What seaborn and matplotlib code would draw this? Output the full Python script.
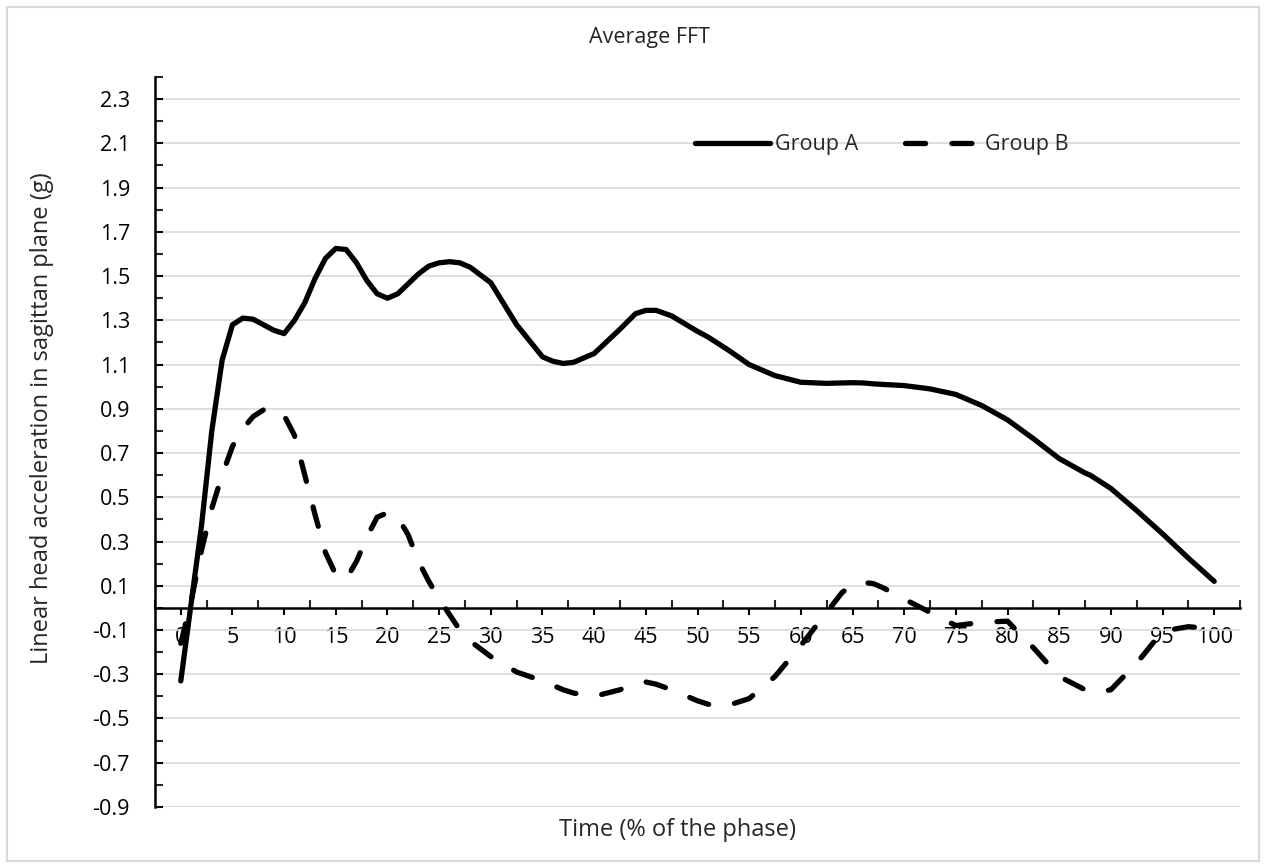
import pandas as pd
import matplotlib.pyplot as plt
from matplotlib.patches import Rectangle
from matplotlib.ticker import FixedLocator
import seaborn as sns


# Values
time_pct = [0, 1, 2, 3, 4, 5, 6, 7, 8, 9, 10, 11, 12, 13, 14, 15, 16, 17, 18, 19,
            20, 21, 22, 23, 24, 25, 26, 27, 28, 30, 32.5, 35, 36, 37, 38, 40, 42.5,
            44, 45, 46, 47.5, 50, 51, 52, 53, 55, 57.5, 60, 62.5, 64, 65, 66, 67,
            68, 70, 72.5, 75, 77.5, 80, 82.5, 85, 87.5, 88, 89, 90, 92.5, 95,
            97.5, 100]

group_a = [-0.33, 0.02, 0.37, 0.80, 1.12, 1.28, 1.31, 1.305, 1.28, 1.255, 1.24,
           1.30, 1.38, 1.49, 1.58, 1.625, 1.62, 1.56, 1.48, 1.42, 1.40, 1.42,
           1.465, 1.51, 1.545, 1.56, 1.565, 1.56, 1.54, 1.47, 1.28, 1.135, 1.115,
           1.105, 1.11, 1.15, 1.26, 1.33, 1.345, 1.345, 1.32, 1.25, 1.225, 1.195,
           1.165, 1.10, 1.05, 1.02, 1.015, 1.017, 1.018, 1.017, 1.013, 1.01,
           1.005, 0.99, 0.965, 0.915, 0.85, 0.765, 0.675, 0.61, 0.60, 0.57, 0.54,
           0.44, 0.335, 0.225, 0.12]

group_b = [-0.16, 0.03, 0.26, 0.45, 0.60, 0.73, 0.81, 0.865, 0.895, 0.90, 0.87,
           0.78, 0.60, 0.42, 0.25, 0.15, 0.13, 0.21, 0.32, 0.41, 0.43, 0.41, 0.33,
           0.21, 0.12, 0.04, -0.03, -0.10, -0.15, -0.22, -0.29, -0.33, -0.35,
           -0.37, -0.385, -0.40, -0.37, -0.34, -0.335, -0.345, -0.37, -0.42,
           -0.435, -0.445, -0.44, -0.41, -0.31, -0.17, -0.02, 0.07, 0.105, 0.115,
           0.11, 0.09, 0.04, -0.02, -0.08, -0.065, -0.06, -0.18, -0.31, -0.37,
           -0.38, -0.38, -0.37, -0.25, -0.105, -0.085, -0.095]

series_names = ["Group A", "Group B"]
x_tick_values = list(range(0, 101, 5))
x_minor_values = [v - 2.5 for v in range(0, 106, 5)]
y_tick_labels = ["-0.9", "-0.7", "-0.5", "-0.3", "-0.1", "0.1", "0.3", "0.5",
                 "0.7", "0.9", "1.1", "1.3", "1.5", "1.7", "1.9", "2.1", "2.3"]
y_minor_labels = ["-0.8", "-0.6", "-0.4", "-0.2", "0.0", "0.2", "0.4", "0.6",
                  "0.8", "1.0", "1.2", "1.4", "1.6", "1.8", "2.0", "2.2", "2.4"]


def build_frame():
    """Длинная таблица для seaborn."""
    n = len(time_pct)
    return pd.DataFrame({
        "time": time_pct * 2,
        "value": group_a + group_b,
        "group": [series_names[0]] * n + [series_names[1]] * n,
    })


def plot_fft(df):
    sns.set_style("white")
    plt.rcParams["font.family"] = ["Open Sans", "DejaVu Sans"]

    fig = plt.figure(figsize=(12.66, 8.68), dpi=100)
    ax = fig.add_axes([0.1224, 0.0703, 0.8571, 0.8410])

    sns.lineplot(data=df, x="time", y="value", hue="group", style="group",
                 palette={"Group A": "black", "Group B": "black"},
                 dashes={"Group A": "", "Group B": (3.8, 5.0)},
                 linewidth=3.8, legend=False, ax=ax)

    for line in ax.lines:
        line.set_solid_capstyle("round")
        line.set_dash_capstyle("round")
        line.set_solid_joinstyle("round")
        line.set_dash_joinstyle("round")

    ax.set_xlim(-2.5, 102.5)
    ax.set_ylim(-0.9, 2.4)

    # оси как в Excel: ось X проходит через ноль
    ax.spines["top"].set_visible(False)
    ax.spines["right"].set_visible(False)
    ax.spines["bottom"].set_position(("data", 0))
    for side in ("left", "bottom"):
        ax.spines[side].set_color("black")
        ax.spines[side].set_linewidth(1.8)

    ax.xaxis.set_major_locator(FixedLocator(x_tick_values))
    ax.xaxis.set_minor_locator(FixedLocator(x_minor_values))
    ax.set_xticklabels([str(v) for v in x_tick_values])
    ax.tick_params(axis="x", which="both", bottom=True, top=False)
    ax.tick_params(axis="x", which="major", direction="out", length=5, width=1.5,
                   pad=9, labelsize=15.5, colors="black")
    ax.tick_params(axis="x", which="minor", direction="in", length=6, width=1.5)

    ax.yaxis.set_major_locator(FixedLocator([float(v) for v in y_tick_labels]))
    ax.yaxis.set_minor_locator(FixedLocator([float(v) for v in y_minor_labels]))
    ax.set_yticklabels(y_tick_labels)
    ax.tick_params(axis="y", which="both", left=True, right=False)
    ax.tick_params(axis="y", which="major", direction="in", length=6, width=1.5,
                   pad=18, labelsize=15.5, colors="black")
    ax.tick_params(axis="y", which="minor", direction="in", length=6, width=1.5)

    ax.grid(axis="y", which="major", color="#d9d9d9", linewidth=1.2)
    ax.grid(axis="x", visible=False)
    ax.set_axisbelow(True)
    ax.set_xlabel("")
    ax.set_ylabel("")

    fig.text(0.513, 0.957, "Average FFT", ha="center", va="center", fontsize=15.5)
    fig.text(0.535, 0.044, "Time (% of the phase)", ha="center", va="center",
             fontsize=17)
    fig.text(0.033, 0.518, "Linear head acceleration in sagittan plane (g)",
             ha="center", va="center", rotation=90, fontsize=17)

    ax.legend(ax.lines, series_names, loc="center left",
              bbox_to_anchor=(0.549, 0.833), bbox_transform=fig.transFigure,
              ncol=2, frameon=False, fontsize=15.5, handlelength=3.5,
              handletextpad=0.2, columnspacing=2.2, borderpad=0,
              borderaxespad=0)

    # рамка области диаграммы
    fig.patches.append(Rectangle((0.0055, 0.008), 0.989, 0.984, fill=False,
                                 edgecolor="#d9d9d9", linewidth=1.5,
                                 transform=fig.transFigure, figure=fig))

    fig.savefig("out.png", dpi=100)
    plt.close(fig)


def main():
    df = build_frame()
    plot_fft(df)


if __name__ == "__main__":
    main()
